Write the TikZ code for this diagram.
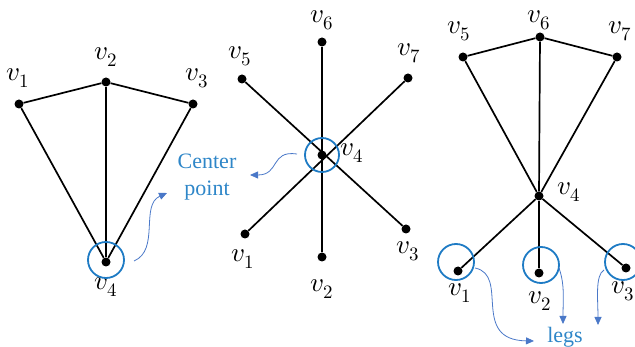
\documentclass[tikz,border=0pt]{standalone}
\usepackage{fontspec}
\usepackage{unicode-math}
\setmathfont{Latin Modern Math}
\newfontfamily\lblfont{Liberation Serif}
\usetikzlibrary{arrows.meta}
\definecolor{ringblue}{HTML}{1E7BC4}
\definecolor{arrblue}{HTML}{4A78C8}
\definecolor{txtblue}{HTML}{2E86C8}
\tikzset{
  vtx/.style={circle,fill=black,inner sep=0pt,minimum size=9pt},
  edge/.style={draw=black,line width=1.7pt},
  lbl/.style={font=\fontsize{27}{30}\selectfont,inner sep=0pt},
  ring/.style={draw=ringblue,line width=1.8pt,circle,inner sep=0pt,minimum size=36pt},
  callout/.style={draw=arrblue,line width=0.8pt,-{Triangle[length=8pt,width=7pt]}},
  note/.style={text=txtblue,font=\lblfont\fontsize{22}{27}\selectfont,align=center,inner sep=0pt}
}
\begin{document}
\begin{tikzpicture}[x=1pt,y=-1pt]
\useasboundingbox (0,0) rectangle (635,347);
% ---------- graph 1
\node[vtx] (a1) at (19,104) {};
\node[vtx] (a2) at (106,82) {};
\node[vtx] (a3) at (193,104) {};
\node[vtx] (a4) at (106,262) {};
\draw[edge] (a1) -- (a2) -- (a3);
\draw[edge] (a1) -- (a4) -- (a3);
\draw[edge] (a2) -- (a4);
\node[lbl] (la1) at (18,78) {$v_1$};
\node[lbl] (la2) at (106,57) {$v_2$};
\node[lbl] (la3) at (197,78) {$v_3$};
\node[lbl] (la4) at (106,287) {$v_4$};
\node[ring] (ra4) at (106,260) {};
% ---------- graph 2
\node[vtx] (b4) at (322,155) {};
\node[vtx] (b6) at (322,42) {};
\node[vtx] (b5) at (242,79) {};
\node[vtx] (b7) at (408,78) {};
\node[vtx] (b1) at (245,234) {};
\node[vtx] (b2) at (322,257) {};
\node[vtx] (b3) at (406,229) {};
\draw[edge] (b5) -- (b3);
\draw[edge] (b7) -- (b1);
\draw[edge] (b6) -- (b2);
\node[lbl] (lb6) at (322,20) {$v_6$};
\node[lbl] (lb5) at (240,56) {$v_5$};
\node[lbl] (lb7) at (409,53) {$v_7$};
\node[lbl] (lb4) at (352,153) {$v_4$};
\node[lbl] (lb1) at (243,259) {$v_1$};
\node[lbl] (lb2) at (322,289) {$v_2$};
\node[lbl] (lb3) at (408,251) {$v_3$};
\node[ring,minimum size=34pt] (rb4) at (322,155) {};
% ---------- graph 3
\node[vtx] (c6) at (540,37) {};
\node[vtx] (c5) at (463,57) {};
\node[vtx] (c7) at (617,57) {};
\node[vtx] (c4) at (539,196) {};
\node[vtx] (c1) at (458,271) {};
\node[vtx] (c2) at (539,273) {};
\node[vtx] (c3) at (626,268) {};
\draw[edge] (c5) -- (c6) -- (c7);
\draw[edge] (c5) -- (c4) -- (c7);
\draw[edge] (c6) -- (c4);
\draw[edge] (c4) -- (c1);
\draw[edge] (c4) -- (c2);
\draw[edge] (c4) -- (c3);
\node[lbl] (lc5) at (459,31) {$v_5$};
\node[lbl] (lc6) at (539,20) {$v_6$};
\node[lbl] (lc7) at (620,31) {$v_7$};
\node[lbl] (lc4) at (569,192) {$v_4$};
\node[lbl] (lc1) at (460,293) {$v_1$};
\node[lbl] (lc2) at (540,301) {$v_2$};
\node[lbl,anchor=east] (lc3) at (635,291) {$v_3$};
\node[ring] (rc1) at (456,262) {};
\node[ring] (rc2) at (541,265) {};
\node[ring] (rc3) at (623,262) {};
% ---------- annotations
\node[note] (cp) at (207,177) {Center\\point};
\coordinate (s1) at (134,261);
\coordinate (e1) at (167,193);
\draw[callout] (s1) .. controls (160,250) and (140,205) .. (e1);
\coordinate (s2) at (297,154);
\coordinate (e2) at (250,175);
\draw[callout] (s2) .. controls (270,150) and (280,175) .. (e2);
\node[note] (legs) at (565,337) {legs};
\coordinate (s3) at (475,268);
\coordinate (e3) at (534,341);
\draw[callout] (s3) .. controls (510,275) and (470,340) .. (e3);
\coordinate (s4) at (559,268);
\coordinate (e4) at (563,324);
\draw[callout] (s4) .. controls (565,285) and (563,300) .. (e4);
\coordinate (s5) at (604,270);
\coordinate (e5) at (598,325);
\draw[callout] (s5) .. controls (595,275) and (598,300) .. (e5);
\end{tikzpicture}
\end{document}
